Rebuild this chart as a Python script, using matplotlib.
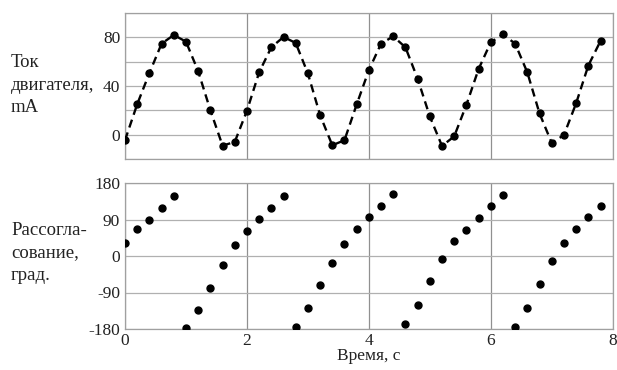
import numpy as np
import matplotlib
matplotlib.use("Agg")
import matplotlib.pyplot as plt
from matplotlib.ticker import MultipleLocator

plt.rcParams['font.family'] = ['Liberation Serif', 'DejaVu Serif']
plt.rcParams['axes.unicode_minus'] = False

# Время, с (шаг 0.2 с)
t = np.round(np.arange(0, 7.81, 0.2), 1)

# Ток двигателя, mA
current = [-4.6, 25.0, 50.6, 74.8, 81.9, 76.5, 52.2, 20.1, -9.0, -6.0,
           19.6, 51.2, 71.8, 80.3, 75.4, 50.3, 16.1, -8.7, -4.6, 24.8,
           53.0, 74.8, 80.8, 71.8, 46.0, 15.0, -9.3, -1.4, 24.5, 53.9,
           75.9, 82.4, 74.8, 51.1, 17.4, -6.8, -0.3, 25.8, 56.8, 77.0]

# Рассогласование, град.
mismatch = [31.9, 67.1, 90.0, 119.5, 148.0, -177.5, -132.5, -79.4, -22.9, 26.2,
            61.4, 91.6, 119.5, 148.0, -174.3, -128.5, -71.2, -16.4, 29.5, 67.1,
            95.7, 122.7, 153.0, -168.5, -121.9, -62.2, -8.2, 36.0, 63.0, 94.1,
            122.7, 149.7, -175.9, -127.6, -69.5, -13.1, 32.7, 66.3, 95.7, 122.7]

fig = plt.figure(figsize=(6.17, 3.70), dpi=100)
ax1 = fig.add_axes([125/617, 1 - 159/370, 487.7/617, 146/370])
ax2 = fig.add_axes([125/617, 1 - 329/370, 487.7/617, 146/370])

# верхний график: ток
ax1.plot(t, current, linestyle=(0, (3.5, 2.2)), color='black', linewidth=1.7,
         marker='o', markersize=5, zorder=3)
ax1.set_xlim(0, 8)
ax1.set_ylim(-20, 100)
ax1.yaxis.set_major_locator(MultipleLocator(40))
ax1.yaxis.set_minor_locator(MultipleLocator(20))
ax1.xaxis.set_major_locator(MultipleLocator(2))
ax1.set_xticklabels([])

# нижний график: рассогласование
ax2.plot(t, mismatch, 'o', color='black', markersize=5, zorder=3)
ax2.set_xlim(0, 8)
ax2.set_ylim(-180, 180)
ax2.yaxis.set_major_locator(MultipleLocator(90))
ax2.xaxis.set_major_locator(MultipleLocator(2))
ax2.set_xlabel('Время, с', fontsize=12.5, color='#222222', labelpad=-1)

for ax in (ax1, ax2):
    ax.grid(True, which='both', axis='y', color='#b0b0b0', linewidth=0.9)
    ax.grid(True, which='major', axis='x', color='#909090', linewidth=0.9)
    ax.set_axisbelow(True)
    ax.tick_params(which='both', length=0, labelsize=12.5, labelcolor='#222222')
    ax.tick_params(axis='y', pad=3.5)
    ax.tick_params(axis='x', pad=3)
    for s in ax.spines.values():
        s.set_color('#a0a0a0')
        s.set_linewidth(0.9)

fig.text(11/617, 1 - 85/370, 'Ток\nдвигателя,\nmA', fontsize=13.5,
         color='#222222', va='center', ha='left', linespacing=1.4)
fig.text(11/617, 1 - 253/370, 'Рассогла-\nсование,\nград.', fontsize=13.5,
         color='#222222', va='center', ha='left', linespacing=1.4)

fig.savefig('out.png', dpi=100)
